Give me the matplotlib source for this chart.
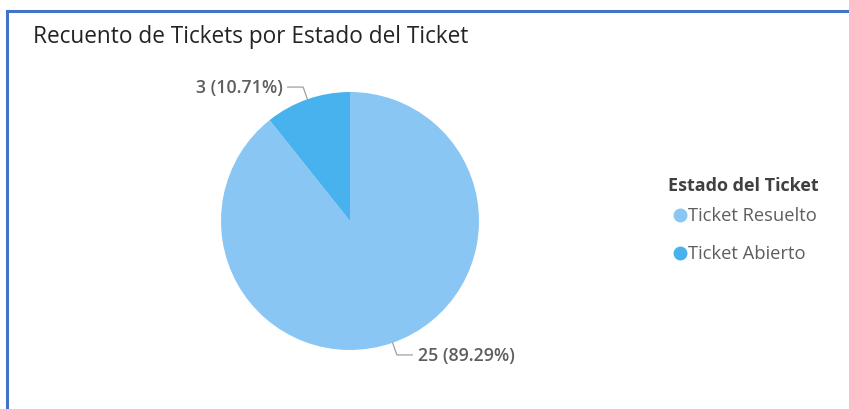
import numpy as np
import matplotlib.pyplot as plt
from matplotlib.patches import Rectangle

plt.rcParams['font.family'] = ['Open Sans', 'DejaVu Sans']

# ticket counts per status
estados = ['Ticket Resuelto', 'Ticket Abierto']
conteos = [25, 3]
colores = ['#8AC6F4', '#48B2EF']

W, H = 849, 410
fig = plt.figure(figsize=(W / 100, H / 100), dpi=100)
fig.patch.set_facecolor('white')

# blue card frame
fig.patches.append(Rectangle((7 / W, -0.1), 1.0, (H - 12) / H + 0.1,
                             transform=fig.transFigure, fill=False,
                             edgecolor='#4472C4', lw=2.2))

fig.text(33 / W, 1 - 37 / H, 'Recuento de Tickets por Estado del Ticket',
         fontsize=16.3, color='#252423', va='center', ha='left')

# pie axes: centre (350, 222), radius 129 px
cx, cy, r = 350, 222, 129
ax = fig.add_axes([(cx - r) / W, (H - cy - r) / H, 2 * r / W, 2 * r / H])
wedges, _ = ax.pie(conteos, colors=colores, startangle=90, counterclock=False,
                   radius=1.0)
ax.set_xlim(-1, 1)
ax.set_ylim(-1, 1)
ax.set_aspect('equal')
ax.axis('off')

total = sum(conteos)
for w, v in zip(wedges, conteos):
    ang = np.deg2rad((w.theta1 + w.theta2) / 2)
    x0, y0 = np.cos(ang), np.sin(ang)
    x1, y1 = 1.1 * x0, 1.1 * y0
    side = np.sign(x0)
    x2 = x1 + side * 0.12
    ax.plot([x0, x1, x2], [y0, y1, y1], color='#A0A0A0', lw=0.9,
            clip_on=False)
    ax.text(x2 + side * 0.04, y1, f'{v} ({v / total * 100:.2f}%)',
            ha='left' if side > 0 else 'right', va='center',
            fontsize=12.8, fontweight='semibold', color='#605E5C')

# legend
fig.text(668 / W, 1 - 186 / H, 'Estado del Ticket', fontsize=13,
         fontweight='bold', color='#404040', va='center', ha='left')
for i, (nombre, c) in enumerate(zip(estados, colores)):
    yl = 1 - (216 + 38 * i) / H
    fig.text(688 / W, yl, nombre, fontsize=13.2, color='#605E5C',
             va='center', ha='left')
    fig.lines.append(plt.Line2D([680 / W], [yl], marker='o', ls='',
                                markersize=9, markerfacecolor=c,
                                markeredgecolor=c,
                                transform=fig.transFigure))

fig.savefig('out.png', dpi=100)
